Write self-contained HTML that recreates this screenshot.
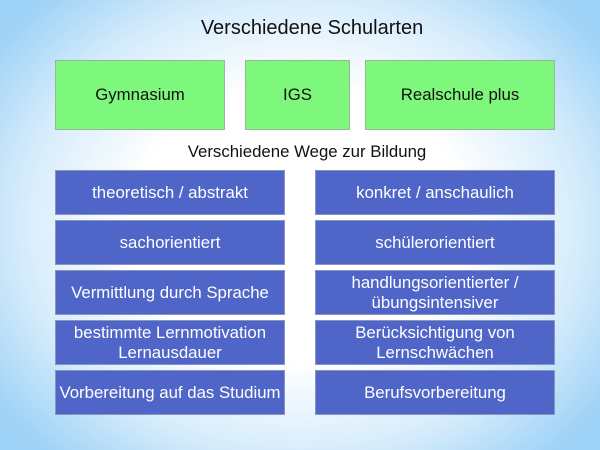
<!DOCTYPE html>
<html><head><meta charset="utf-8"><style>
body{margin:0;width:600px;height:450px;overflow:hidden;font-family:"Liberation Sans",sans-serif;
background:radial-gradient(ellipse 62% 68% at 50% 50%,#ffffff 0%,#ffffff 45%,#d6ecfb 75%,#9fd3f7 100%);position:relative}
.b{position:absolute;display:flex;align-items:center;justify-content:center;text-align:center;box-sizing:border-box;line-height:20px}
.g{background:#7ef87c;border:1px solid #9ab79a;color:#111;font-size:16.8px}
.u{background:#4f66c8;border:1px solid #8a94c0;color:#fff;font-size:16.8px}
.t{position:absolute;left:0;width:600px;text-align:center;color:#111}
</style></head><body>
<div class="t" style="top:17px;font-size:20px;left:12px">Verschiedene Schularten</div>
<div class="b g" style="left:55px;top:60px;width:170px;height:70px">Gymnasium</div>
<div class="b g" style="left:245px;top:60px;width:105px;height:70px">IGS</div>
<div class="b g" style="left:365px;top:60px;width:190px;height:70px">Realschule plus</div>
<div class="t" style="top:142px;font-size:16.8px;left:7px">Verschiedene Wege zur Bildung</div>
<div class="b u" style="left:55px;top:170px;width:230px;height:45px">theoretisch / abstrakt</div>
<div class="b u" style="left:315px;top:170px;width:240px;height:45px">konkret / anschaulich</div>
<div class="b u" style="left:55px;top:220px;width:230px;height:45px">sachorientiert</div>
<div class="b u" style="left:315px;top:220px;width:240px;height:45px">schülerorientiert</div>
<div class="b u" style="left:55px;top:270px;width:230px;height:45px">Vermittlung durch Sprache</div>
<div class="b u" style="left:315px;top:270px;width:240px;height:45px">handlungsorientierter /<br>übungsintensiver</div>
<div class="b u" style="left:55px;top:320px;width:230px;height:45px">bestimmte Lernmotivation<br>Lernausdauer</div>
<div class="b u" style="left:315px;top:320px;width:240px;height:45px">Berücksichtigung von<br>Lernschwächen</div>
<div class="b u" style="left:55px;top:370px;width:230px;height:45px">Vorbereitung auf das Studium</div>
<div class="b u" style="left:315px;top:370px;width:240px;height:45px">Berufsvorbereitung</div>
</body></html>
